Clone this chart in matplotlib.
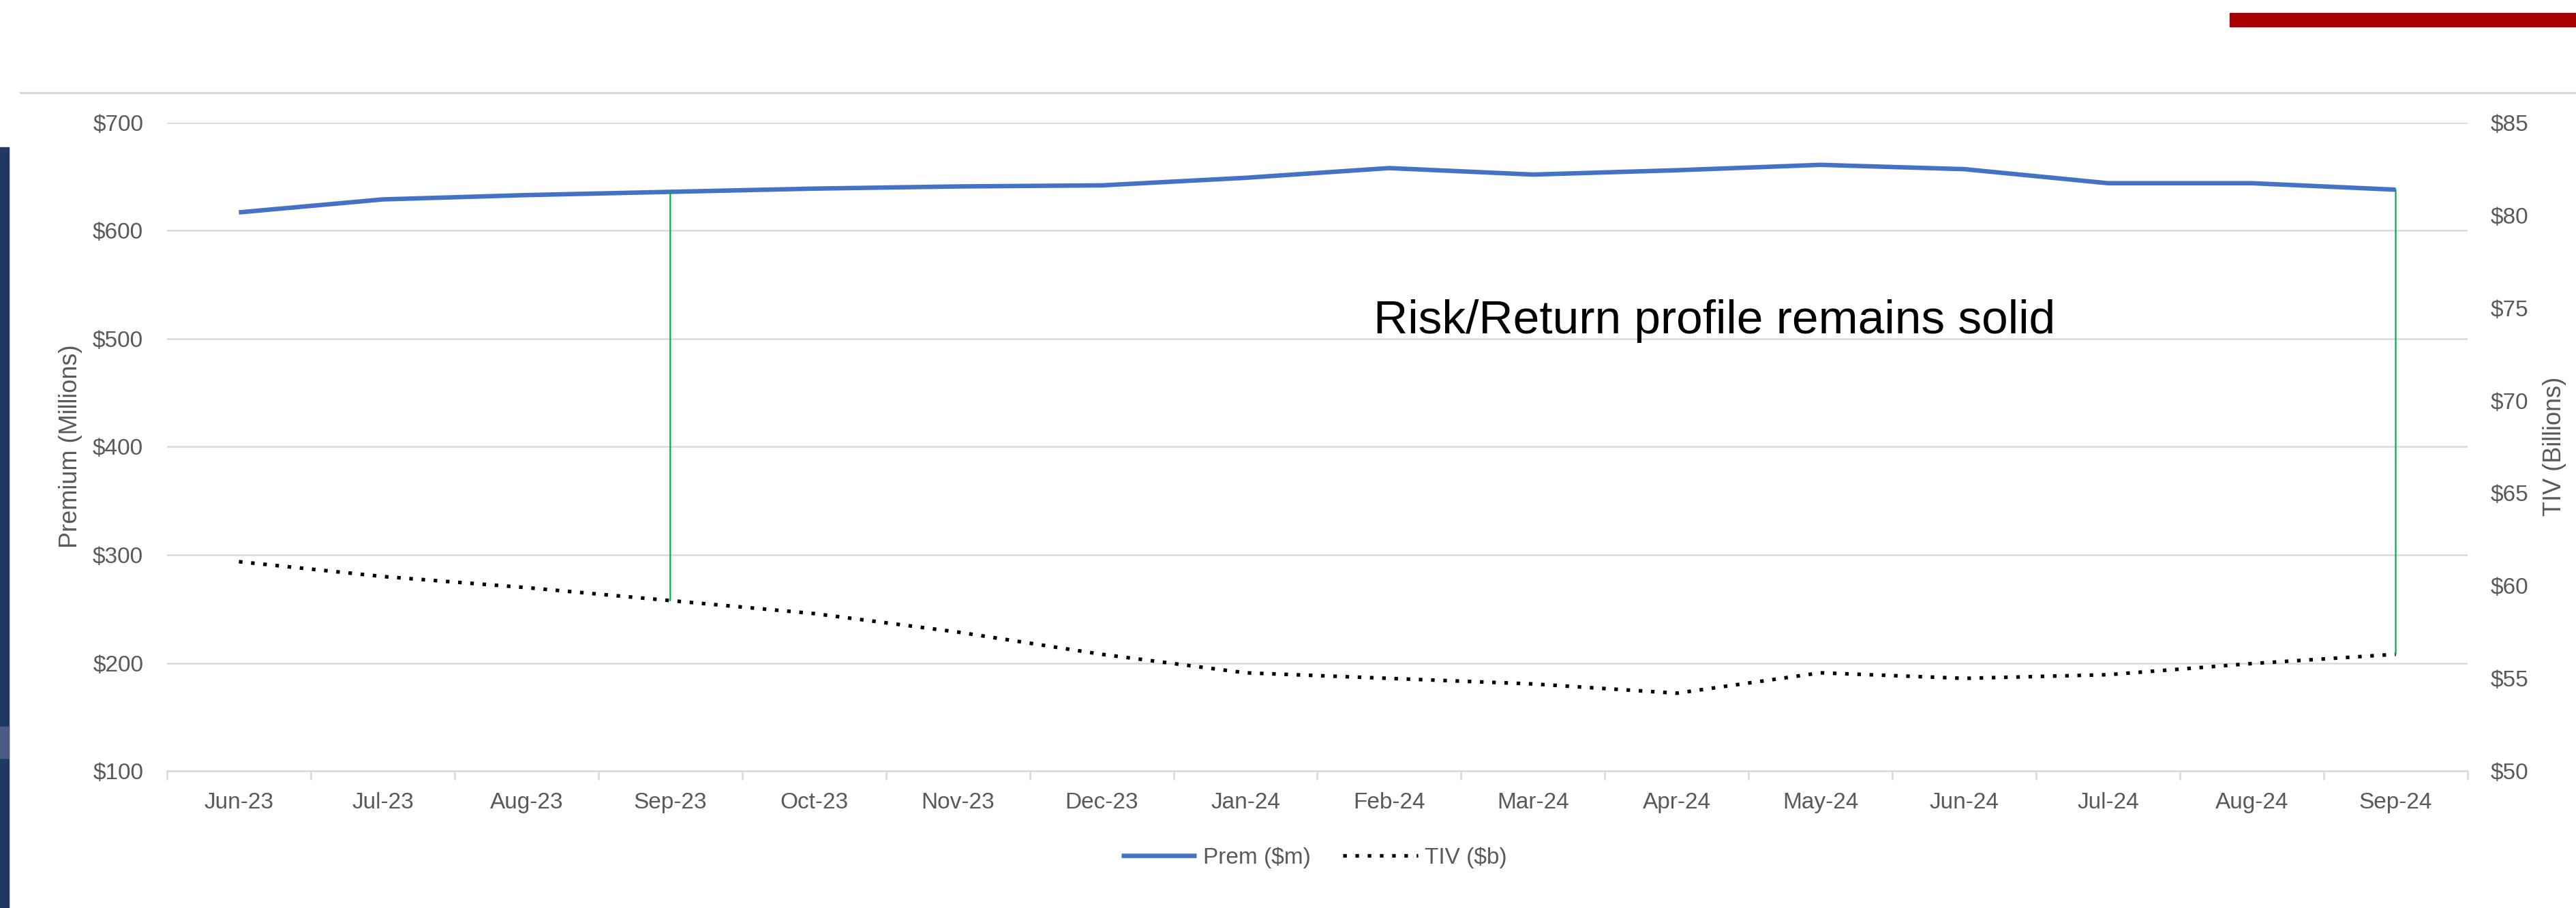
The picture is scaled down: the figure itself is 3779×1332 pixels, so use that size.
import numpy as np
import matplotlib.pyplot as plt
from matplotlib.patches import Rectangle, ConnectionPatch
from matplotlib.lines import Line2D
from matplotlib.ticker import FuncFormatter

plt.rcParams['font.family'] = ['Liberation Sans', 'DejaVu Sans']

# Données mensuelles
months = ['Jun-23', 'Jul-23', 'Aug-23', 'Sep-23', 'Oct-23', 'Nov-23', 'Dec-23', 'Jan-24',
          'Feb-24', 'Mar-24', 'Apr-24', 'May-24', 'Jun-24', 'Jul-24', 'Aug-24', 'Sep-24']
prem = [617, 629, 633, 636, 639, 641, 642, 649, 658, 652, 656, 661, 657, 644, 644, 638]  # $m
tiv = [61.3, 60.5, 59.9, 59.2, 58.5, 57.5, 56.3, 55.3, 55.0, 54.7, 54.2, 55.3, 55.0, 55.2, 55.8, 56.3]  # $b
highlight = ['Sep-23', 'Sep-24']

grey_txt = '#595959'
grid_col = '#D9D9D9'

W, H = 3780, 1332
fig = plt.figure(figsize=(W / 100, H / 100), dpi=100)
ax = fig.add_axes([245 / W, 1 - 1131 / H, (3620 - 245) / W, (1131 - 180) / H])
ax2 = ax.twinx()

x = np.arange(len(months))
l1, = ax.plot(x, prem, color='#4472C4', lw=4.7, solid_capstyle='butt', zorder=3, label='Prem ($m)')
l2, = ax2.plot(x, tiv, color='black', lw=3.8, dashes=(1, 2.4), dash_capstyle='butt', label='TIV ($b)')

# axes
ax.set_xlim(-0.5, len(months) - 0.5)
ax.set_ylim(100, 700)
ax2.set_ylim(50, 85)
ax.set_yticks(range(100, 701, 100))
ax2.set_yticks(range(50, 86, 5))
fmt = FuncFormatter(lambda v, p: '${:.0f}'.format(v))
ax.yaxis.set_major_formatter(fmt)
ax2.yaxis.set_major_formatter(fmt)

ax.set_xticks(x)
ax.set_xticklabels(months)
ax.set_xticks(np.arange(-0.5, len(months), 1), minor=True)
ax.tick_params(axis='x', which='major', length=0, pad=22, labelsize=24, labelcolor=grey_txt)
ax.tick_params(axis='x', which='minor', length=9, width=1.8, color=grid_col)
ax.tick_params(axis='y', length=0, pad=25, labelsize=24, labelcolor=grey_txt)
ax2.tick_params(axis='y', length=0, pad=24, labelsize=24, labelcolor=grey_txt)

ax.yaxis.grid(True, color=grid_col, lw=1.8)
ax.set_axisbelow(True)
for s in ['top', 'left', 'right']:
    ax.spines[s].set_visible(False)
    ax2.spines[s].set_visible(False)
ax2.spines['bottom'].set_visible(False)
ax.spines['bottom'].set_color(grid_col)
ax.spines['bottom'].set_linewidth(1.8)

fig.text(104 / W, 1 - 655 / H, 'Premium (Millions)', rotation=90, ha='center', va='center',
         fontsize=26, color=grey_txt)
fig.text(3748 / W, 1 - 655 / H, 'TIV (Billions)', rotation=90, ha='center', va='center',
         fontsize=26, color=grey_txt)

# traits verts entre les deux séries
for m in highlight:
    i = months.index(m)
    cp = ConnectionPatch(xyA=(i, prem[i]), coordsA=ax.transData, xyB=(i, tiv[i]), coordsB=ax2.transData,
                         color='#00B050', lw=1.6, zorder=2)
    fig.add_artist(cp)

fig.text(2515 / W, 1 - 489 / H, 'Risk/Return profile remains solid', ha='center', va='baseline',
         fontsize=50, color='black')

fig.legend([l1, l2], ['Prem ($m)', 'TIV ($b)'], loc='center', bbox_to_anchor=(0.51, 1 - 1258 / H),
           ncol=2, frameon=False, fontsize=24, labelcolor=grey_txt, handlelength=3.3,
           handletextpad=0.3, columnspacing=1.4)

# décor de la diapo
fig.add_artist(Line2D([30 / W, 1], [1 - 136 / H] * 2, color=grid_col, lw=2.2))
fig.add_artist(Rectangle((3271 / W, 1 - 39 / H), (W - 3271) / W, 20 / H, color='#A50002',
                         transform=fig.transFigure))
fig.add_artist(Rectangle((0, 0), 13 / W, (H - 216) / H, color='#1F3864', transform=fig.transFigure))
fig.add_artist(Rectangle((0, 1 - 1112 / H), 13 / W, 46 / H, color='#4B5B82', transform=fig.transFigure))

fig.savefig('out.png', dpi=100)
